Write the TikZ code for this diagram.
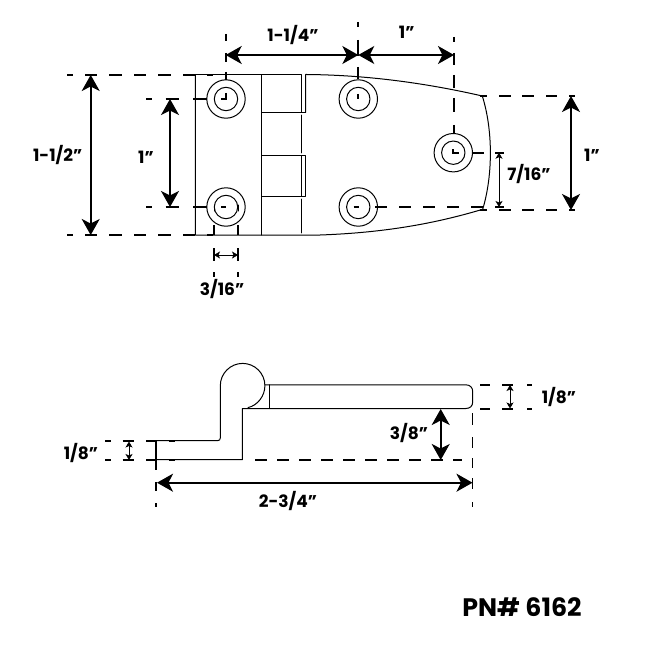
\documentclass[tikz,border=0pt]{standalone}
\usepackage{fontspec}
\setmainfont{Poppins}
\usetikzlibrary{arrows.meta}
\tikzset{
  part/.style={draw=black,line width=1pt,line cap=round,line join=round},
  hvy/.style={draw=black,line width=1.5pt},
  ext/.style={draw=black,line width=1.8pt},
  bigdim/.style={draw=black,line width=1.6pt,{Stealth[length=16pt,width=18pt,inset=4.5pt]}-{Stealth[length=16pt,width=18pt,inset=4.5pt]}},
  smalldim/.style={draw=black,line width=.8pt,{Stealth[length=6pt,width=7pt,inset=1.5pt]}-{Stealth[length=6pt,width=7pt,inset=1.5pt]}},
  lab/.style={font=\fontsize{17}{17}\selectfont\bfseries,inner sep=0pt,text=black},
  pn/.style={font=\fontsize{25.3}{25.3}\selectfont\bfseries,inner sep=0pt,text=black}
}
\begin{document}
\begin{tikzpicture}[x=1pt,y=-1pt]
\useasboundingbox (0,0) rectangle (650,650);
% --- top view: outline
\draw[part] (195.3,74.7) -- (301,74.7);
\draw[part] (195.3,74.7) -- (195.3,235) -- (320,235) .. controls (390,232.5) and (440,222) .. (482.7,209.3);
\draw[part] (305.7,112.3) -- (305.7,74.5) -- (306.7,74.5) .. controls (370,75) and (430,84) .. (482.3,96);
\draw[part] (482.3,96) .. controls (493,130) and (493,175) .. (482.7,209.3);
\draw[part] (261.7,74.7) -- (261.7,235);
\draw[part] (301,74.7) -- (301,112.3);
\draw[part,line width=.6pt] (301,115) -- (301,153);
\draw[part] (301,155.7) -- (301,196.3);
\draw[part,line width=.6pt] (301,199) -- (301,233);
\draw[hvy] (261.7,112.3) -- (306.4,112.3);
\draw[hvy] (261.7,155.7) -- (301,155.7);
\draw[hvy] (261.7,196.3) -- (301,196.3);
\draw[part] (301,155.7) -- (305.7,155.7) -- (305.7,196.3) -- (301,196.3);
% holes
\foreach \n/\hx/\hy in {a/226/99,b/226/207,c/358.3/99,d/358.3/207,e/453.3/152.7}{
  \coordinate (\n) at (\hx,\hy);
  \draw[part] (\n) circle[radius=19.2pt];
  \draw[part] (\n) circle[radius=11.7pt];
}
\draw[ext] (226,93) -- (226,99) -- (221,99);
\draw[ext] (358.3,94) -- (358.3,99);
\draw[ext] (221,207) -- (226,207);
\draw[ext] (353.5,207) -- (358.5,207);
\draw[ext] (453.3,149) -- (453.3,152.7) -- (459,152.7);
% extension lines, top view
\foreach \p/\q in {67/72.7,85/97,109/122,134/146,158/171,183/195,207/213}{
  \draw[ext] (\p,74.7) -- (\q,74.7);
  \draw[ext] (\p,235) -- (\q,235);
}
\foreach \p/\q in {146/152,165.7/179,193/207}{
  \draw[ext] (\p,99) -- (\q,99);
  \draw[ext] (\p,207) -- (\q,207);
}
\foreach \p/\q in {34/41,53/62,72/80}{\draw[ext] (226,\p) -- (226,\q);}
\foreach \p/\q in {22/27,40/53,53/56,67/79}{\draw[ext] (358.3,\p) -- (358.3,\q);}
\foreach \p/\q in {37/42,53/65,75/88,98/112,125/134}{\draw[ext] (453.7,\p) -- (453.7,\q);}
\foreach \p/\q in {480/487,499/511,522/534,546/557,569/575}{
  \draw[ext] (\p,96) -- (\q,96);
  \draw[ext] (\p,210.3) -- (\q,210.3);
}
\foreach \p/\q in {375/387,399/411,423/435,447/459,471/483,495/504}{\draw[ext] (\p,207) -- (\q,207);}
\draw[ext] (472.5,152.7) -- (484,152.7);
\draw[ext] (495,152.7) -- (504,152.7);
\foreach \x in {214,238}{
  \draw[ext] (\x,225) -- (\x,235);
  \draw[part] (\x,205) -- (\x,211);
  \draw[ext] (\x,248) -- (\x,261);
  \draw[ext] (\x,272) -- (\x,277);
}
% dimension arrows, top view
\coordinate (d1a) at (90.7,75); \coordinate (d1b) at (90.7,235);
\coordinate (d2a) at (170,99); \coordinate (d2b) at (170,207);
\coordinate (d3a) at (225.7,55); \coordinate (d3b) at (358.3,55); \coordinate (d4b) at (454,55);
\coordinate (d5a) at (571,96); \coordinate (d5b) at (571,210);
\coordinate (d6a) at (499,152.7); \coordinate (d6b) at (499,207);
\coordinate (d7a) at (214,255); \coordinate (d7b) at (238,255);
\draw[bigdim] (d1a) -- (d1b);
\draw[bigdim] (d2a) -- (d2b);
\draw[bigdim] (d3a) -- (d3b);
\draw[bigdim] (d3b) -- (d4b);
\draw[bigdim] (d5a) -- (d5b);
\draw[smalldim] (d6a) -- (d6b);
\draw[smalldim] (d7a) -- (d7b);
% --- side view
\draw[part] (156.7,440.7) -- (217.5,440.7) .. controls (219.5,440.7) and (220.3,439.5) .. (220.3,438) -- (220.3,385.7)
  .. controls (220.3,373.4) and (230.4,363.4) .. (242.6,363.4)
  .. controls (254.9,363.4) and (264.9,373.4) .. (264.9,385.7)
  .. controls (264.9,396) and (257.5,405.5) .. (248,407.6);
\draw[part] (156.7,459.7) -- (242.3,459.7) -- (242.3,408.5) -- (465.7,408.5)
  .. controls (470,408.5) and (472.7,406) .. (472.7,402) -- (472.7,391.5)
  .. controls (472.7,387.5) and (470,384.8) .. (465.7,384.8) -- (264.9,384.8);
\draw[part] (269.7,384.8) -- (269.7,408.5);
% side view extension lines
\foreach \p/\q in {442/470,482/491,503/507}{\draw[ext] (156.3,\p) -- (156.3,\q);}
\foreach \p/\q in {413/425,437/448,458/468,478/489,502/507}{\draw[ext] (472.5,\p) -- (472.5,\q);}
\foreach \p/\q in {105/111,122.7/134.3,146/157,169/175}{
  \draw[ext] (\p,441) -- (\q,441);
  \draw[ext] (\p,460) -- (\q,460);
}
\foreach \p in {255,277,299,321,343,365,387,409,431}{\draw[ext] (\p,460) -- ({\p+11.5},460);}
\draw[ext] (453,460) -- (462,460);
\foreach \p/\q in {480/490,502/513,527/532}{
  \draw[ext] (\p,384.7) -- (\q,384.7);
  \draw[ext] (\p,408.7) -- (\q,408.7);
}
\coordinate (s1a) at (129,441.5); \coordinate (s1b) at (129,460);
\coordinate (s2a) at (510,385); \coordinate (s2b) at (510,408.5);
\coordinate (s3a) at (440.7,409); \coordinate (s3b) at (440.7,460);
\coordinate (s4a) at (157,482.7); \coordinate (s4b) at (472.5,482.7);
\draw[smalldim] (s1a) -- (s1b);
\draw[smalldim] (s2a) -- (s2b);
\draw[bigdim] (s3a) -- (s3b);
\draw[bigdim] (s4a) -- (s4b);
% labels
\node[lab] (t1) at (293,35) {1-1/4”};
\node[lab] (t2) at (406.7,32) {1”};
\node[lab] (t3) at (57.7,155) {1-1/2”};
\node[lab] (t4) at (146,157) {1”};
\node[lab] (t5) at (529,174) {7/16”};
\node[lab] (t6) at (592,155) {1”};
\node[lab] (t7) at (222,289) {3/16”};
\node[lab] (t8) at (559,397) {1/8”};
\node[lab] (t9) at (409,433) {3/8”};
\node[lab] (t10) at (288,501) {2-3/4”};
\node[lab] (t11) at (81,452.7) {1/8”};
\node[pn] (t12) at (522,607) {PN\# 6162};
\end{tikzpicture}
\end{document}
